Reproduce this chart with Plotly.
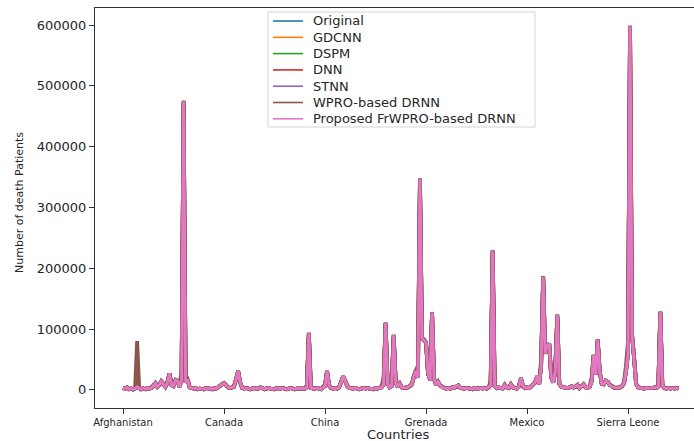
import plotly.graph_objects as go

# Row positions that carry a country label on the x axis
tick_rows = [0, 50, 100, 150, 200, 250]
tick_countries = ["Afghanistan", "Canada", "China", "Grenada", "Mexico", "Sierra Leone"]

series_names = ["Original", "GDCNN", "DSPM", "DNN", "STNN",
                "WPRO-based DRNN", "Proposed FrWPRO-based DRNN"]
series_colors = ["#1f77b4", "#ff7f0e", "#2ca02c", "#d62728", "#9467bd",
                 "#8c564b", "#e377c2"]

# Number of death patients per country row, in thousands
original_k = [
    3, 2, 4, 1, 2, 0, 2, 5, 3, 1,
    2, 1, 3, 2, 3, 6, 11, 5, 8, 14,
    9, 5, 12, 27, 8, 6, 16, 14, 5, 17,
    474, 12, 17, 4, 3, 2, 3, 1, 2, 2,
    1, 3, 2, 2, 1, 3, 2, 4, 6, 9,
    11, 8, 4, 3, 4, 5, 18, 31, 12, 3,
    2, 3, 2, 1, 2, 3, 2, 2, 4, 2,
    1, 2, 3, 2, 2, 1, 3, 2, 2, 3,
    2, 1, 2, 3, 2, 1, 2, 2, 3, 2,
    2, 4, 93, 3, 2, 2, 3, 2, 1, 4,
    6, 31, 8, 3, 2, 3, 2, 4, 13, 22,
    15, 6, 3, 2, 2, 3, 2, 1, 2, 3,
    2, 3, 2, 2, 1, 3, 2, 3, 4, 9,
    110, 10, 4, 6, 90, 12, 5, 10, 4, 3,
    3, 4, 6, 9, 22, 31, 20, 347, 85, 82,
    78, 28, 16, 127, 18, 8, 13, 7, 4, 3,
    2, 3, 2, 4, 3, 6, 7, 3, 2, 2,
    3, 2, 2, 1, 3, 2, 2, 3, 2, 3,
    2, 4, 8, 229, 6, 3, 4, 3, 2, 8,
    4, 3, 9, 4, 3, 2, 5, 19, 6, 3,
    4, 3, 5, 8, 12, 22, 9, 40, 186, 60,
    72, 76, 20, 12, 30, 123, 10, 5, 4, 3,
    3, 4, 6, 4, 5, 8, 3, 6, 9, 4,
    3, 5, 14, 57, 25, 82, 30, 10, 9, 15,
    13, 8, 5, 4, 3, 3, 4, 6, 10, 30,
    60, 598, 90, 53, 10, 4, 3, 3, 2, 3,
    3, 2, 3, 4, 3, 5, 128, 8, 3, 2,
    3, 2, 3, 2, 3, 2,
]

gdcnn_k = [
    3, 2, 3, 1, 2, 1, 2, 4, 3, 1,
    2, 1, 3, 2, 3, 5, 10, 5, 8, 13,
    9, 5, 12, 26, 8, 6, 15, 14, 5, 16,
    470, 12, 16, 4, 3, 2, 3, 1, 2, 2,
    1, 3, 2, 2, 1, 3, 2, 4, 6, 9,
    11, 8, 4, 3, 4, 5, 17, 30, 12, 3,
    2, 3, 2, 1, 2, 3, 2, 2, 4, 2,
    1, 2, 3, 2, 2, 1, 3, 2, 2, 3,
    2, 1, 2, 3, 2, 1, 2, 2, 3, 2,
    2, 4, 91, 3, 2, 2, 3, 2, 1, 4,
    6, 30, 8, 3, 2, 3, 2, 4, 12, 21,
    15, 6, 3, 2, 2, 3, 2, 1, 2, 3,
    2, 3, 2, 2, 1, 3, 2, 3, 4, 9,
    108, 10, 4, 6, 88, 12, 5, 10, 4, 3,
    3, 4, 6, 9, 21, 30, 20, 344, 84, 81,
    77, 27, 16, 125, 18, 8, 13, 7, 4, 3,
    2, 3, 2, 4, 3, 6, 7, 3, 2, 2,
    3, 2, 2, 1, 3, 2, 2, 3, 2, 3,
    2, 4, 8, 226, 6, 3, 4, 3, 2, 8,
    4, 3, 9, 4, 3, 2, 5, 18, 6, 3,
    4, 3, 5, 8, 12, 21, 9, 39, 184, 59,
    71, 75, 20, 12, 29, 120, 10, 5, 4, 3,
    3, 4, 6, 4, 5, 8, 3, 6, 9, 4,
    3, 5, 14, 56, 25, 81, 30, 10, 9, 15,
    13, 8, 5, 4, 3, 3, 4, 6, 10, 29,
    59, 594, 89, 52, 10, 4, 3, 3, 2, 3,
    3, 2, 3, 4, 3, 5, 126, 8, 3, 2,
    3, 2, 3, 2, 3, 2,
]

dspm_k = [
    3, 2, 4, 1, 2, 1, 2, 5, 3, 1,
    2, 1, 3, 2, 3, 6, 10, 5, 8, 14,
    9, 5, 12, 26, 8, 6, 16, 14, 5, 17,
    471, 12, 17, 4, 3, 2, 3, 1, 2, 2,
    1, 3, 2, 2, 1, 3, 2, 4, 6, 9,
    11, 8, 4, 3, 4, 5, 18, 30, 12, 3,
    2, 3, 2, 1, 2, 3, 2, 2, 4, 2,
    1, 2, 3, 2, 2, 1, 3, 2, 2, 3,
    2, 1, 2, 3, 2, 1, 2, 2, 3, 2,
    2, 4, 92, 3, 2, 2, 3, 2, 1, 4,
    6, 31, 8, 3, 2, 3, 2, 4, 13, 22,
    15, 6, 3, 2, 2, 3, 2, 1, 2, 3,
    2, 3, 2, 2, 1, 3, 2, 3, 4, 9,
    109, 10, 4, 6, 89, 12, 5, 10, 4, 3,
    3, 4, 6, 9, 22, 31, 20, 345, 85, 82,
    78, 28, 16, 126, 18, 8, 13, 7, 4, 3,
    2, 3, 2, 4, 3, 6, 7, 3, 2, 2,
    3, 2, 2, 1, 3, 2, 2, 3, 2, 3,
    2, 4, 8, 227, 6, 3, 4, 3, 2, 8,
    4, 3, 9, 4, 3, 2, 5, 19, 6, 3,
    4, 3, 5, 8, 12, 22, 9, 40, 185, 60,
    72, 75, 20, 12, 30, 121, 10, 5, 4, 3,
    3, 4, 6, 4, 5, 8, 3, 6, 9, 4,
    3, 5, 14, 57, 25, 82, 30, 10, 9, 15,
    13, 8, 5, 4, 3, 3, 4, 6, 10, 30,
    60, 595, 90, 53, 10, 4, 3, 3, 2, 3,
    3, 2, 3, 4, 3, 5, 127, 8, 3, 2,
    3, 2, 3, 2, 3, 2,
]

dnn_k = [
    3, 2, 4, 1, 2, 1, 2, 5, 3, 1,
    2, 1, 3, 2, 3, 6, 11, 5, 8, 14,
    9, 5, 12, 27, 8, 6, 16, 14, 5, 17,
    472, 12, 17, 4, 3, 2, 3, 1, 2, 2,
    1, 3, 2, 2, 1, 3, 2, 4, 6, 9,
    11, 8, 4, 3, 4, 5, 18, 31, 12, 3,
    2, 3, 2, 1, 2, 3, 2, 2, 4, 2,
    1, 2, 3, 2, 2, 1, 3, 2, 2, 3,
    2, 1, 2, 3, 2, 1, 2, 2, 3, 2,
    2, 4, 92, 3, 2, 2, 3, 2, 1, 4,
    6, 31, 8, 3, 2, 3, 2, 4, 13, 22,
    15, 6, 3, 2, 2, 3, 2, 1, 2, 3,
    2, 3, 2, 2, 1, 3, 2, 3, 4, 9,
    109, 10, 4, 6, 89, 12, 5, 10, 4, 3,
    3, 4, 6, 9, 22, 31, 20, 346, 85, 82,
    78, 28, 16, 126, 18, 8, 13, 7, 4, 3,
    2, 3, 2, 4, 3, 6, 7, 3, 2, 2,
    3, 2, 2, 1, 3, 2, 2, 3, 2, 3,
    2, 4, 8, 228, 6, 3, 4, 3, 2, 8,
    4, 3, 9, 4, 3, 2, 5, 19, 6, 3,
    4, 3, 5, 8, 12, 22, 9, 40, 185, 60,
    72, 76, 20, 12, 30, 122, 10, 5, 4, 3,
    3, 4, 6, 4, 5, 8, 3, 6, 9, 4,
    3, 5, 14, 57, 25, 82, 30, 10, 9, 15,
    13, 8, 5, 4, 3, 3, 4, 6, 10, 30,
    60, 596, 90, 53, 10, 4, 3, 3, 2, 3,
    3, 2, 3, 4, 3, 5, 127, 8, 3, 2,
    3, 2, 3, 2, 3, 2,
]

stnn_k = [
    3, 2, 4, 1, 2, 1, 2, 5, 3, 1,
    2, 1, 3, 2, 3, 6, 11, 5, 8, 14,
    9, 5, 12, 27, 8, 6, 16, 14, 5, 17,
    473, 12, 17, 4, 3, 2, 3, 1, 2, 2,
    1, 3, 2, 2, 1, 3, 2, 4, 6, 9,
    11, 8, 4, 3, 4, 5, 18, 31, 12, 3,
    2, 3, 2, 1, 2, 3, 2, 2, 4, 2,
    1, 2, 3, 2, 2, 1, 3, 2, 2, 3,
    2, 1, 2, 3, 2, 1, 2, 2, 3, 2,
    2, 4, 93, 3, 2, 2, 3, 2, 1, 4,
    6, 31, 8, 3, 2, 3, 2, 4, 13, 22,
    15, 6, 3, 2, 2, 3, 2, 1, 2, 3,
    2, 3, 2, 2, 1, 3, 2, 3, 4, 9,
    110, 10, 4, 6, 90, 12, 5, 10, 4, 3,
    3, 4, 6, 9, 22, 31, 20, 346, 85, 82,
    78, 28, 16, 127, 18, 8, 13, 7, 4, 3,
    2, 3, 2, 4, 3, 6, 7, 3, 2, 2,
    3, 2, 2, 1, 3, 2, 2, 3, 2, 3,
    2, 4, 8, 228, 6, 3, 4, 3, 2, 8,
    4, 3, 9, 4, 3, 2, 5, 19, 6, 3,
    4, 3, 5, 8, 12, 22, 9, 40, 186, 60,
    72, 76, 20, 12, 30, 122, 10, 5, 4, 3,
    3, 4, 6, 4, 5, 8, 3, 6, 9, 4,
    3, 5, 14, 57, 25, 82, 30, 10, 9, 15,
    13, 8, 5, 4, 3, 3, 4, 6, 10, 30,
    60, 597, 90, 53, 10, 4, 3, 3, 2, 3,
    3, 2, 3, 4, 3, 5, 128, 8, 3, 2,
    3, 2, 3, 2, 3, 2,
]

wpro_drnn_k = [
    3, 2, 4, 1, 2, 1, 4, 80, 5, 1,
    2, 1, 3, 2, 4, 6, 11, 6, 9, 14,
    10, 6, 14, 27, 9, 7, 16, 15, 8, 30,
    476, 14, 17, 5, 3, 2, 3, 1, 2, 2,
    1, 3, 2, 2, 1, 3, 2, 4, 6, 9,
    11, 8, 4, 3, 4, 7, 20, 31, 12, 3,
    2, 3, 2, 1, 2, 3, 2, 2, 4, 2,
    1, 2, 3, 2, 2, 1, 3, 2, 2, 3,
    2, 1, 2, 3, 2, 1, 2, 2, 3, 2,
    2, 8, 94, 4, 2, 2, 3, 2, 1, 5,
    9, 31, 8, 3, 2, 3, 2, 5, 14, 22,
    15, 6, 3, 2, 2, 3, 2, 1, 2, 3,
    2, 3, 2, 2, 1, 3, 2, 3, 6, 20,
    111, 10, 5, 12, 91, 12, 5, 10, 4, 3,
    3, 4, 6, 10, 24, 32, 40, 348, 86, 83,
    78, 28, 30, 128, 18, 8, 13, 7, 4, 3,
    2, 3, 2, 4, 3, 6, 7, 3, 2, 2,
    3, 2, 2, 1, 3, 2, 2, 3, 2, 3,
    2, 4, 15, 230, 6, 3, 4, 3, 2, 8,
    4, 3, 9, 4, 3, 2, 6, 19, 6, 3,
    4, 3, 5, 8, 12, 22, 12, 50, 187, 60,
    72, 76, 20, 14, 40, 124, 10, 5, 4, 3,
    3, 4, 6, 4, 5, 8, 3, 6, 9, 4,
    3, 5, 20, 58, 30, 83, 30, 10, 9, 15,
    13, 8, 5, 4, 3, 3, 4, 6, 12, 40,
    80, 599, 90, 53, 10, 4, 3, 3, 2, 3,
    3, 2, 3, 4, 3, 10, 129, 8, 3, 2,
    3, 2, 3, 2, 3, 2,
]

proposed_drnn_k = [
    3, 2, 4, 1, 2, 1, 2, 5, 3, 1,
    2, 1, 3, 2, 3, 6, 11, 5, 8, 14,
    9, 5, 12, 27, 8, 6, 16, 14, 5, 17,
    474, 12, 17, 4, 3, 2, 3, 1, 2, 2,
    1, 3, 2, 2, 1, 3, 2, 4, 6, 9,
    11, 8, 4, 3, 4, 5, 18, 31, 12, 3,
    2, 3, 2, 1, 2, 3, 2, 2, 4, 2,
    1, 2, 3, 2, 2, 1, 3, 2, 2, 3,
    2, 1, 2, 3, 2, 1, 2, 2, 3, 2,
    2, 4, 93, 3, 2, 2, 3, 2, 1, 4,
    6, 31, 8, 3, 2, 3, 2, 4, 13, 22,
    15, 6, 3, 2, 2, 3, 2, 1, 2, 3,
    2, 3, 2, 2, 1, 3, 2, 3, 4, 9,
    110, 10, 4, 6, 90, 12, 5, 10, 4, 3,
    3, 4, 6, 9, 22, 31, 20, 347, 85, 82,
    78, 28, 16, 127, 18, 8, 13, 7, 4, 3,
    2, 3, 2, 4, 3, 6, 7, 3, 2, 2,
    3, 2, 2, 1, 3, 2, 2, 3, 2, 3,
    2, 4, 8, 229, 6, 3, 4, 3, 2, 8,
    4, 3, 9, 4, 3, 2, 5, 19, 6, 3,
    4, 3, 5, 8, 12, 22, 9, 40, 186, 60,
    72, 76, 20, 12, 30, 123, 10, 5, 4, 3,
    3, 4, 6, 4, 5, 8, 3, 6, 9, 4,
    3, 5, 14, 57, 25, 82, 30, 10, 9, 15,
    13, 8, 5, 4, 3, 3, 4, 6, 10, 30,
    60, 598, 90, 53, 10, 4, 3, 3, 2, 3,
    3, 2, 3, 4, 3, 5, 128, 8, 3, 2,
    3, 2, 3, 2, 3, 2,
]

all_series_k = [original_k, gdcnn_k, dspm_k, dnn_k, stnn_k,
                wpro_drnn_k, proposed_drnn_k]

W, H = 694, 441
M_L, M_R, M_T, M_B = 95, 0, 8, 33
PLOT_W = W - M_L - M_R
PLOT_H = H - M_T - M_B
FONT = "DejaVu Sans"
TEXT = "#262626"


def px(x):
    """Horizontal pixel -> paper coordinate."""
    return (x - M_L) / PLOT_W


def py(y):
    """Vertical pixel (from top) -> paper coordinate."""
    return (H - M_B - y) / PLOT_H


fig = go.Figure()
for name, color, vals in zip(series_names, series_colors, all_series_k):
    is_top = name.startswith("Proposed")
    fig.add_trace(go.Scatter(
        x=list(range(len(vals))),
        y=[v * 1000 for v in vals],
        mode="lines",
        name=name,
        line=dict(color=color, width=3.0 if is_top else 3.8),
        showlegend=False,
    ))

# Legend box drawn as a framed block with one line sample per series
shapes = [dict(type="rect", xref="paper", yref="paper",
               x0=px(268), x1=px(535), y0=py(127), y1=py(12),
               line=dict(color="#d4d4d4", width=1),
               fillcolor="rgba(255,255,255,0.85)", layer="above")]
annotations = []
for i, (name, color) in enumerate(zip(series_names, series_colors)):
    yy = 21 + i * 16.3
    shapes.append(dict(type="line", xref="paper", yref="paper",
                       x0=px(273), x1=px(303), y0=py(yy), y1=py(yy),
                       line=dict(color=color, width=1.6), layer="above"))
    annotations.append(dict(xref="paper", yref="paper", x=px(311), y=py(yy),
                            text=name, showarrow=False, xanchor="left",
                            yanchor="middle",
                            font=dict(family=FONT, size=13, color=TEXT)))

# Axis titles
annotations.append(dict(xref="paper", yref="paper", x=px(398), y=py(435),
                        text="Countries", showarrow=False, xanchor="center",
                        yanchor="middle",
                        font=dict(family=FONT, size=13, color=TEXT)))
annotations.append(dict(xref="paper", yref="paper", x=px(19), y=py(203),
                        text="Number of death Patients", showarrow=False,
                        textangle=-90, xanchor="center", yanchor="middle",
                        font=dict(family=FONT, size=11, color=TEXT)))

fig.update_layout(
    width=W, height=H,
    margin=dict(l=M_L, r=M_R, t=M_T, b=M_B, pad=0),
    paper_bgcolor="white", plot_bgcolor="white",
    shapes=shapes, annotations=annotations,
    showlegend=False,
    xaxis=dict(
        range=[-13.86, 282.67],
        tickmode="array", tickvals=tick_rows, ticktext=tick_countries,
        ticks="outside", ticklen=5, tickwidth=1, tickcolor="#333",
        tickfont=dict(family=FONT, size=10, color=TEXT),
        showline=True, linecolor="#333", linewidth=1, mirror=True,
        showgrid=False, zeroline=False,
    ),
    yaxis=dict(
        range=[-29900, 628000],
        tickmode="array", tickvals=[0, 100000, 200000, 300000, 400000, 500000, 600000],
        ticktext=["0", "100000", "200000", "300000", "400000", "500000", "600000"],
        ticks="outside", ticklen=5, tickwidth=1, tickcolor="#333",
        tickfont=dict(family=FONT, size=13, color=TEXT),
        showline=True, linecolor="#333", linewidth=1, mirror=False,
        showgrid=False, zeroline=False,
    ),
)

fig.write_html("out.html")
